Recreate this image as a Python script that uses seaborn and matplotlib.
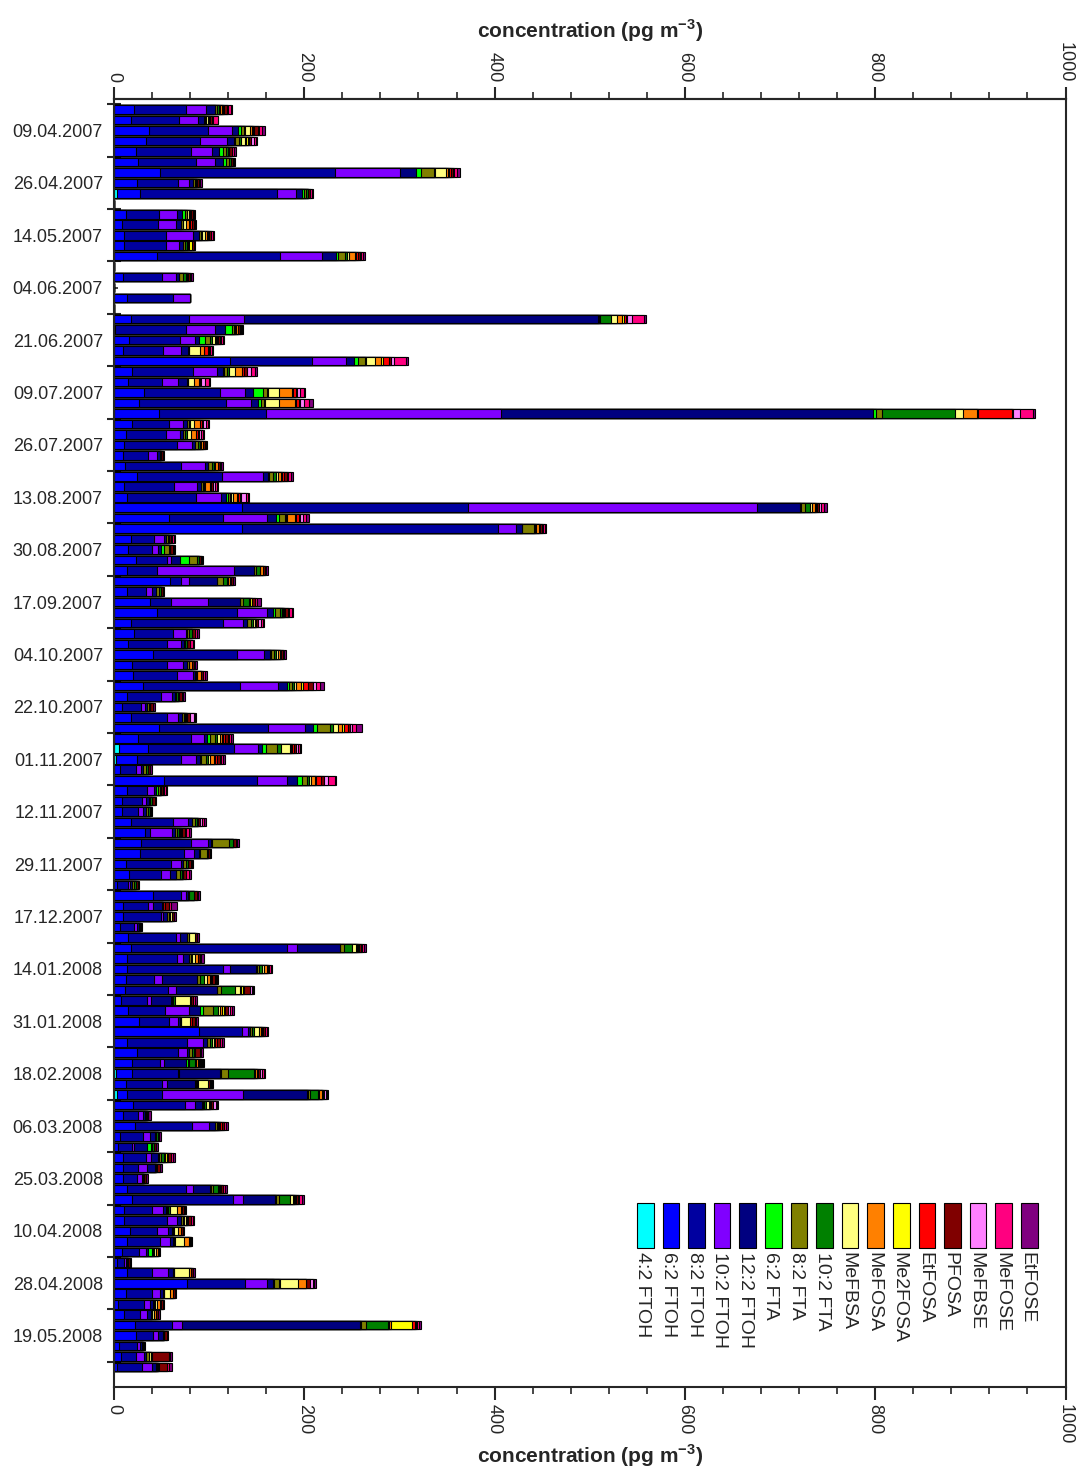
import numpy as np
import pandas as pd
import seaborn as sns
import matplotlib
matplotlib.use("Agg")
from matplotlib import pyplot as plt
from matplotlib.patches import Rectangle
from matplotlib.ticker import MultipleLocator

# one label per group of five samples (label sits on the middle sample)
date_labels = ["09.04.2007", "26.04.2007", "14.05.2007", "04.06.2007", "21.06.2007",
               "09.07.2007", "26.07.2007", "13.08.2007", "30.08.2007", "17.09.2007",
               "04.10.2007", "22.10.2007", "01.11.2007", "12.11.2007", "29.11.2007",
               "17.12.2007", "14.01.2008", "31.01.2008", "18.02.2008", "06.03.2008",
               "25.03.2008", "10.04.2008", "28.04.2008", "19.05.2008"]
n_samples = 121

# concentrations in pg m-3, one value per sample (0 = no sample)
ftoh_4_2 = [0, 0, 0, 0, 0, 0, 0, 0, 2.8, 0,
            0, 0, 0, 0, 0, 0, 0, 0, 0, 0,
            0, 0, 0, 0, 0, 0, 0, 0, 0, 0,
            0, 0, 0, 0, 0, 0, 0, 0, 0, 0,
            0, 0, 0, 0, 0, 0, 0, 0, 0, 0,
            0, 0, 0, 0, 0, 0, 0, 0, 0, 0,
            0, 5.6, 2, 0, 0, 0, 0, 0, 0, 0,
            0, 0, 0, 0, 0, 0, 0, 0, 0, 0,
            0, 0, 0, 0, 0, 0, 0, 0, 0, 0,
            0, 0, 2, 0, 3.5, 0, 0, 0, 0, 0,
            0, 0, 0, 0, 0, 0, 0, 0, 0, 0,
            0, 0, 0, 0, 0, 0, 0, 0, 0, 0,
            0]
ftoh_6_2 = [21, 17.5, 36.8, 33.3, 22.8, 25.6, 48.4, 23.8, 24.5, 0,
            12.3, 8, 10.5, 10.9, 45.6, 0, 9.8, 0, 13.3, 0,
            17.5, 1, 16, 9, 122, 18.6, 15, 31.9, 26.3, 47.7,
            19.3, 12.3, 10.5, 9, 11.6, 23.8, 10.5, 13.3, 134, 58.2,
            134, 17.5, 15, 22.8, 14, 58.9, 13.3, 37.9, 45.6, 17.5,
            21, 14.4, 40.7, 19.3, 20.3, 30.8, 14, 8, 17.5, 47.7,
            24.9, 30.5, 21.7, 6.3, 52.6, 13.3, 8.8, 8.8, 17.9, 32.6,
            28.4, 27.3, 12.6, 16, 3.5, 41.4, 9, 9, 6.3, 14.4,
            17.5, 13.3, 13.3, 12.3, 11.6, 7, 15, 26.3, 89.7, 13.3,
            23.8, 19.3, 17.2, 12.6, 10.5, 19.6, 9.8, 22, 6.3, 4.6,
            9, 9, 9, 13.3, 19.3, 10.5, 10.5, 16.8, 14, 8,
            3.5, 14, 77.1, 12.6, 4.6, 10.9, 22, 22.8, 5.6, 7,
            3.5]
ftoh_8_2 = [55, 51, 62.4, 57, 57.8, 60.3, 184, 43.8, 143.7, 0,
            35, 38.5, 43.8, 43.5, 129, 0, 41, 0, 48.4, 0,
            61.7, 75, 53.3, 42, 86, 64.8, 35, 79.6, 91.5, 111.8,
            38.9, 42, 55.4, 27, 58.5, 89.4, 53, 72.9, 238.5, 56.8,
            270, 24.5, 24.5, 32.6, 30.8, 11.6, 20, 22, 84.1, 96.7,
            40.7, 41, 88.3, 36, 45.6, 101.6, 35, 20, 38.5, 114,
            55.7, 90.4, 46.6, 16.8, 98, 21, 20.3, 16.8, 44.5, 5.3,
            52.6, 46, 47, 33, 10.9, 28.7, 27, 40, 15, 50.8,
            164, 52.6, 101.6, 29.8, 45, 28, 38.6, 31.9, 44.5, 63.8,
            43.1, 29.1, 48.4, 37.5, 36.1, 55, 15.8, 59.6, 24.5, 14.7,
            24.5, 16.5, 15.4, 62, 105.5, 29.1, 44.9, 28, 34.4, 18.6,
            7, 25.6, 60.6, 27.7, 27, 16.5, 38.6, 18.6, 18.2, 16.1,
            26.3]
ftoh_10_2 = [21, 19.6, 24.5, 28.7, 22.8, 20.3, 68.4, 11.6, 20, 0,
             18.6, 18.6, 28.4, 14, 44.5, 0, 14.4, 0, 18.2, 0,
             57.5, 30, 15.8, 19, 36, 24.5, 16.8, 26.6, 25.9, 247,
             14.7, 15, 15.8, 9.5, 26, 43.8, 23.8, 26, 303.4, 45.6,
             18.6, 10.5, 7, 4.6, 81.7, 8.8, 7, 39.3, 30.8, 21.7,
             14, 14.7, 29, 17.5, 16.8, 39.6, 11.6, 4.6, 11.6, 38.6,
             14.4, 25.2, 15.8, 4.9, 31.5, 7.7, 4.2, 5.3, 15.8, 22.8,
             18.2, 11.2, 10.5, 9.8, 2.5, 5.6, 4.6, 2.8, 2.5, 4.2,
             11.2, 6.3, 7, 8.8, 8.8, 3.5, 25.6, 9.5, 7, 16.8,
             10.2, 4.2, 1, 6, 85.2, 10.5, 4.6, 18.6, 7, 2,
             4.9, 8.8, 4.6, 8, 11.2, 11.6, 11.2, 11.6, 10.5, 6.7,
             1.8, 17.5, 23.5, 8, 6.3, 7, 10.5, 5.3, 3.5, 8.8,
             10.5]
ftoh_12_2 = [9, 6.7, 7, 7.4, 7.4, 8.8, 16.8, 3.5, 6.3, 0,
             5.3, 4.9, 7, 4.6, 14.4, 0, 3.5, 0, 0, 0,
             372, 11, 4.2, 8, 8.4, 7, 9.5, 7.7, 8, 390.8,
             4.2, 3.5, 3.5, 3, 3.2, 5.3, 4.2, 5.3, 44.9, 9.5,
             6, 2, 2.5, 9.5, 20.7, 29, 4, 33.3, 7, 4.2,
             1.5, 3, 6, 3.5, 2, 9.5, 3, 2, 3.5, 8.8,
             3.2, 4.2, 4.2, 3, 10.5, 2.5, 3, 3, 4.2, 3.5,
             2.8, 5.3, 2.8, 6.3, 1.5, 2.5, 9.5, 3.5, 2, 7.7,
             44.9, 7, 27.3, 36.1, 43, 21, 11.2, 1.5, 2, 4.2,
             2, 22.8, 42.8, 29.1, 67.3, 7, 2, 6, 5.3, 13,
             8, 8.8, 2, 17.5, 33, 3.2, 3.5, 4.2, 3.5, 2.8,
             1.5, 4.6, 6.3, 3.5, 3.5, 4.2, 187.5, 5.3, 2, 2,
             3.5]
fta_6_2 = [0.5, 0, 3, 1, 4, 2.8, 4.6, 0, 2.5, 0,
           3.5, 0, 0, 0, 1.7, 0, 0, 0, 0, 0,
           0.5, 7, 6.7, 0, 4.2, 1, 0, 11.2, 2.8, 3.8,
           0, 0, 0, 0, 0, 1, 0, 2.8, 1, 2.8,
           0, 0, 3.2, 9.8, 0, 0, 0, 0, 1.5, 0,
           0, 0, 1, 0, 0, 2, 0, 0, 0, 4.6,
           2.8, 3.5, 1.5, 0, 5.3, 2, 0, 0, 0, 0,
           1, 1, 0, 0, 0, 0, 0, 0, 0, 0,
           0, 0, 1, 0, 0, 1, 2.8, 0, 0, 0,
           0, 2, 1, 1, 1.8, 1.8, 0, 0, 0, 4.2,
           1, 0, 0, 1, 1, 1, 0, 0, 0, 3.5,
           0, 0, 1, 0, 0, 0, 1, 0, 0, 0,
           0]
fta_8_2 = [2, 1, 3, 4, 3, 3.5, 14, 2, 2, 0,
           2, 2, 2, 2, 7.7, 0, 4, 0, 0, 0,
           1.5, 2, 4.9, 1, 7, 3, 1, 3.5, 3.5, 6.3,
           1.5, 2, 3, 1, 4, 4, 2, 1.5, 4.9, 6.3,
           13, 2, 5.3, 7.7, 2, 6, 3, 3.5, 5.3, 4.2,
           2, 2, 3.5, 2, 2, 3.5, 2, 2, 2, 13.3,
           5.3, 12.3, 5, 2.5, 4.6, 1.5, 2, 2, 3, 2.5,
           17.5, 7, 3, 3.9, 2.5, 1, 1, 2, 1.5, 1.5,
           4.2, 2, 2, 3, 4.2, 2, 10.5, 1.5, 2, 3,
           2.5, 1.5, 7, 1.5, 1.5, 1, 1.5, 2, 1.5, 1.5,
           2, 1, 1, 2, 3.5, 1.5, 2, 1, 1, 1,
           1, 1, 4.6, 1, 1, 1.5, 5.3, 1, 1, 2.5,
           1.5]
fta_10_2 = [2, 1, 1, 2, 2, 2, 1, 2, 2, 0,
            0, 1, 1, 1.5, 2, 0, 3, 0, 0, 0,
            11.6, 1, 2, 0, 1, 2, 0, 1, 1, 76,
            1, 1.5, 2, 0, 2, 3, 1, 1, 5.3, 2,
            1, 1, 1.5, 2, 3.9, 4.6, 2, 6, 2, 2,
            3, 2, 2, 1, 1, 2, 2, 1.5, 2, 3.5,
            2, 3.5, 2, 2, 2.5, 1, 2, 1.5, 2, 2,
            5, 1, 2, 2, 2, 4.6, 0, 2, 0, 0,
            8.8, 1, 3.2, 4.6, 14.7, 2, 5.3, 0, 2, 2,
            2, 6, 27.3, 1, 8.8, 1.5, 1, 1.5, 1.5, 2.5,
            2.8, 0, 0, 5.3, 11.6, 2, 1, 1, 1, 1,
            0, 0, 1, 0, 1, 0, 23.5, 0, 0, 0,
            1]
mefbsa = [1, 2, 5, 4, 1, 0, 12, 1, 0, 0,
          2, 3, 2.5, 1, 2.5, 0, 1, 0, 0, 0,
          6, 1, 2.8, 11.6, 10, 6, 7, 12.3, 14.4, 8.4,
          4.6, 4.2, 1, 0, 1, 2, 1.5, 2, 1.4, 1,
          1, 0, 0, 0, 0, 1, 0, 1, 1, 1.5,
          0, 0, 1.5, 0, 0, 2, 0, 0, 1, 4.9,
          3, 9.5, 2.5, 0, 2.5, 0, 0, 0, 1, 1,
          0, 0, 0, 1, 0, 0, 0, 2, 0, 7,
          3.5, 2.8, 2.5, 3.5, 5, 15, 2.8, 9.5, 4.9, 2.5,
          1, 1.5, 1, 10.5, 1, 3.5, 0, 1, 0, 0,
          1, 0, 0, 1, 2.5, 7, 2.5, 4.6, 8.8, 2.5,
          0, 15.8, 18.9, 6.3, 2, 1.5, 1, 0, 0, 2,
          0]
mefosa = [2, 1, 2, 1, 0, 0, 2, 0, 0, 0,
          1.5, 3, 3, 1.5, 6, 0, 1, 0, 0, 0,
          6, 2, 1.5, 3.5, 6.3, 8, 4.6, 13.7, 16.5, 15.4,
          6, 5.3, 2, 0, 2.5, 3.5, 5.3, 4.6, 3.2, 7.7,
          2.8, 0, 0, 0, 3.5, 2.5, 0, 0, 1.5, 1,
          0, 0, 2, 2.5, 3.5, 6, 1, 0, 1, 4.6,
          2, 1.5, 3.5, 0, 3.5, 0, 0, 0, 0, 1,
          0, 0, 0, 0, 0, 0, 0, 0, 0, 0,
          1, 3.2, 2.5, 2.5, 1, 0, 2, 0, 2.5, 1,
          0, 1.5, 2.8, 0, 2.8, 1.5, 0, 1, 0, 0,
          0, 0, 0, 1, 1.5, 4.6, 1.5, 3.5, 5.3, 2.5,
          0, 2.8, 8.8, 2.8, 2.8, 2.5, 2, 0, 0, 1,
          0]
me2fosa = [1, 0, 1, 2, 0, 0, 0.5, 0, 0, 0,
           1, 1, 1, 2.5, 1, 0, 0, 0, 0, 0,
           2, 0, 1, 0, 2, 0, 0, 1, 1, 0.5,
           0, 0, 0, 0, 0, 1, 0, 1, 1, 1,
           0, 0, 0, 0, 0, 0, 0, 1.8, 0, 0,
           0, 0, 0, 0, 0, 1.5, 0, 0, 0, 2,
           1.5, 1, 1, 0, 1, 0, 0, 0, 0, 0,
           0, 0, 0, 0, 0, 0, 0, 0, 0, 0,
           1, 0, 0, 1, 2.8, 0, 1.5, 0, 1, 0,
           0, 1, 0, 0, 0, 0, 0, 0, 0, 0,
           2.5, 0, 0, 0, 1, 0, 0, 0, 0, 0,
           0, 0, 0, 0, 0, 0, 22, 0, 0, 0,
           0]
etfosa = [1, 1, 1, 1, 0, 0, 2, 0, 0, 0,
          0, 2, 1, 1, 2, 0, 0, 0, 0, 0,
          2, 0, 1.5, 4.6, 6.3, 1.5, 1.5, 2.5, 3.5, 36.4,
          2, 2, 0, 0, 0, 2, 1, 1.5, 1.5, 3.5,
          1, 0, 0, 0, 0, 1, 0, 0, 1, 0,
          0, 0, 1, 0, 0, 5.3, 0, 0, 0, 4,
          2, 2.5, 2.5, 0, 5.3, 0, 0, 0, 0, 1,
          0, 0, 0, 0, 0, 0, 2, 0, 0, 0,
          1, 0, 1, 1.5, 1, 1, 1.5, 2, 1, 1.5,
          1, 1, 1, 0, 1, 1, 0, 1.5, 0, 0,
          1.5, 1, 0, 1, 1, 1, 1, 0, 1, 0,
          0, 0, 0, 0, 1, 0, 2.8, 0, 0, 1,
          1]
pfosa = [3, 2, 5, 3, 3, 2, 3, 2, 2.5, 0,
         2, 2, 2, 1.5, 2, 0, 2, 0, 0, 0,
         1, 2, 2, 1, 2, 3, 1, 1, 1, 1,
         1, 1.5, 2, 2, 3, 3, 2, 2, 2, 1,
         2, 2, 3, 2, 2, 2, 2, 3, 3, 3,
         3, 2.5, 2.5, 2.5, 2, 5, 2.5, 3, 3, 2,
         3, 2, 3, 2.5, 3, 2, 2.5, 1.5, 2, 3,
         3, 2, 3, 4, 2, 3, 5, 2, 1.5, 2,
         2, 2, 2, 3, 6, 3, 3, 3, 2.5, 3.5,
         5.3, 1.5, 1.5, 1.5, 1.5, 2, 1.5, 2.8, 1.5, 2,
         3, 3.5, 2, 2.5, 2, 2, 3, 1.5, 1.5, 1,
         1.5, 2, 4.6, 2, 2, 2, 1, 2.5, 1.5, 17,
         8]
mefbse = [1, 1, 1, 3, 0, 0, 1, 0, 0, 0,
          0, 0, 0, 0, 1.5, 0, 0, 0, 0, 0,
          5, 1, 1, 1.5, 2.8, 5, 4.6, 3.9, 4.6, 7,
          3.5, 2, 0, 0, 0, 1.5, 2, 5, 2.1, 3,
          1, 1.5, 0, 0, 0, 0, 0, 0, 1.5, 2.8,
          0, 0, 0, 0, 0, 4, 0, 0, 3.5, 2.5,
          1.5, 1.5, 1, 0, 4.6, 1.5, 0, 0, 2.5, 1,
          0, 0, 0, 0, 0, 0, 0, 0, 0, 0,
          2, 0, 0, 1, 1.8, 0, 2, 0, 0, 0,
          0, 1.5, 2.8, 1.5, 2, 3, 0, 0, 0, 0,
          0, 0, 0, 0, 1.8, 0, 0, 0, 0, 0,
          0, 0, 2.5, 0, 0, 0, 1, 0, 0, 0,
          0]
mefose = [3, 5, 3, 2, 2, 1, 3, 1, 1.5, 0,
          1, 1, 1.5, 0, 2, 0, 1, 0, 0, 0,
          12.6, 2, 1.5, 2, 12.6, 3.9, 3.5, 4.2, 5.3, 13.3,
          2, 2, 1, 0, 1, 3, 2, 2, 3.5, 3.5,
          2.5, 2.5, 1, 1, 1.5, 0, 0, 2, 2.5, 1.5,
          2.5, 3, 1.5, 1, 2, 4, 1.5, 0, 2, 3.5,
          2, 2, 2.5, 0, 7.7, 2, 0, 0, 1.5, 3.5,
          1, 0, 1, 2.5, 0, 1.5, 2, 0, 0, 0,
          2, 1, 1.5, 1.5, 1, 1.5, 2.5, 1.5, 1.5, 2,
          1, 1, 1.5, 1, 1, 1.3, 0, 1.5, 0, 0,
          2, 0, 0, 2, 2.5, 1, 1.5, 0, 0, 0,
          0, 0, 1, 0, 0, 0, 2.8, 0, 0, 1.5,
          2]
etfose = [2, 1, 3, 1, 2, 1.3, 3, 1.5, 1.8, 0,
          1, 1, 1, 0.8, 2, 0, 2, 0, 0, 0,
          2, 1, 1, 1, 2, 1.5, 1, 1, 4.2, 2.8,
          1, 1, 1.5, 1.5, 1.5, 1.5, 1, 1, 2.8, 3.5,
          1.5, 1, 1.5, 1.5, 1.5, 1.5, 1.3, 4.5, 1, 1.5,
          2, 1.5, 1.5, 1.5, 2.5, 4, 1.5, 2, 1, 6.3,
          2, 1.5, 2, 1.6, 1, 1.5, 1.5, 1.4, 2, 1.4,
          2, 1.5, 1.5, 2.5, 1.4, 2.5, 6, 1.9, 1, 2,
          1.5, 3, 1.6, 1.1, 1.5, 2, 2, 2, 1.7, 2.4,
          1.8, 1, 1, 0.5, 1, 1, 2.4, 2.7, 1.8, 1.8,
          1.9, 1.5, 2.1, 1.9, 2, 1.2, 1.9, 1.4, 1.4, 1.2,
          1.2, 2, 2, 1, 1.7, 2.3, 1.5, 1.6, 0.8, 2.5,
          3.3]

components = [
    ("4:2 FTOH", ftoh_4_2, "#00FFFF"),
    ("6:2 FTOH", ftoh_6_2, "#0000FF"),
    ("8:2 FTOH", ftoh_8_2, "#0000A0"),
    ("10:2 FTOH", ftoh_10_2, "#8000FF"),
    ("12:2 FTOH", ftoh_12_2, "#000080"),
    ("6:2 FTA", fta_6_2, "#00FF00"),
    ("8:2 FTA", fta_8_2, "#808000"),
    ("10:2 FTA", fta_10_2, "#008000"),
    ("MeFBSA", mefbsa, "#FFFF80"),
    ("MeFOSA", mefosa, "#FF8000"),
    ("Me2FOSA", me2fosa, "#FFFF00"),
    ("EtFOSA", etfosa, "#FF0000"),
    ("PFOSA", pfosa, "#800000"),
    ("MeFBSE", mefbse, "#FF80FF"),
    ("MeFOSE", mefose, "#FF0080"),
    ("EtFOSE", etfose, "#800080"),
]

sns.set_style("ticks")
plt.rcParams["font.family"] = ["Liberation Sans", "DejaVu Sans"]
plt.rcParams["axes.linewidth"] = 1.5

fig = plt.figure(figsize=(10.79, 14.70), dpi=100)
ax = fig.add_axes([114 / 1079, 83 / 1470, 951.5 / 1079, 1288 / 1470])

samples = list(range(n_samples))
stack = np.cumsum(np.array([c[1] for c in components], dtype=float), axis=0)

# stacked bars: draw the running totals from the outermost layer inwards
for k in range(len(components) - 1, -1, -1):
    df = pd.DataFrame({"sample": samples, "conc": stack[k]})
    sns.barplot(data=df, x="conc", y="sample", orient="h", order=samples,
                color=components[k][2], saturation=1, edgecolor="black",
                linewidth=0.8, width=0.82, errorbar=None, ax=ax)

ax.set_xlim(0, 1000)
ax.set_ylim(121.9, -1.0)
ax.set_ylabel("")

# y axis: date label on the middle sample of each group, group borders as ticks
ax.set_yticks([2 + 5 * i for i in range(len(date_labels))])
ax.set_yticklabels(date_labels, fontsize=13)
ax.set_yticks([-0.5 + 5 * i for i in range(25)], minor=True)
ax.tick_params(axis="y", which="major", direction="in", length=3, width=1.2, pad=8)
ax.tick_params(axis="y", which="minor", direction="inout", length=10, width=1.5)

xlabel = r"concentration (pg m$^{\mathregular{-3}}$)"
ax.set_xticks(range(0, 1001, 200))
ax.xaxis.set_minor_locator(MultipleLocator(40))
ax.tick_params(axis="x", which="major", direction="out", length=9, width=1.5,
               labelsize=13, labelrotation=-90, pad=3)
ax.tick_params(axis="x", which="minor", direction="out", length=5, width=1.2)
ax.set_xlabel(xlabel, fontsize=15, fontweight="bold", labelpad=-1)

top = ax.secondary_xaxis("top")
top.set_xticks(range(0, 1001, 200))
top.xaxis.set_minor_locator(MultipleLocator(40))
top.tick_params(axis="x", which="major", direction="out", length=9, width=1.5,
                labelsize=13, labelrotation=-90, pad=3)
top.tick_params(axis="x", which="minor", direction="out", length=5, width=1.2)
top.set_xlabel(xlabel, fontsize=15, fontweight="bold", labelpad=3)
for sp in top.spines.values():
    sp.set_linewidth(1.5)
for sp in ax.spines.values():
    sp.set_visible(True)
    sp.set_linewidth(1.5)

# legend: vertical swatches with rotated names underneath
for j, (name, _, col) in enumerate(components):
    x0 = 637 + 25.6 * j
    fig.add_artist(Rectangle((x0 / 1079, 1 - 1248 / 1470), 16.5 / 1079, 45 / 1470,
                             transform=fig.transFigure, facecolor=col,
                             edgecolor="black", linewidth=0.8))
    fig.text((x0 + 6) / 1079, 1 - 1252 / 1470, name, rotation=-90, ha="center",
             va="top", fontsize=14)

fig.savefig("out.png", dpi=100)
